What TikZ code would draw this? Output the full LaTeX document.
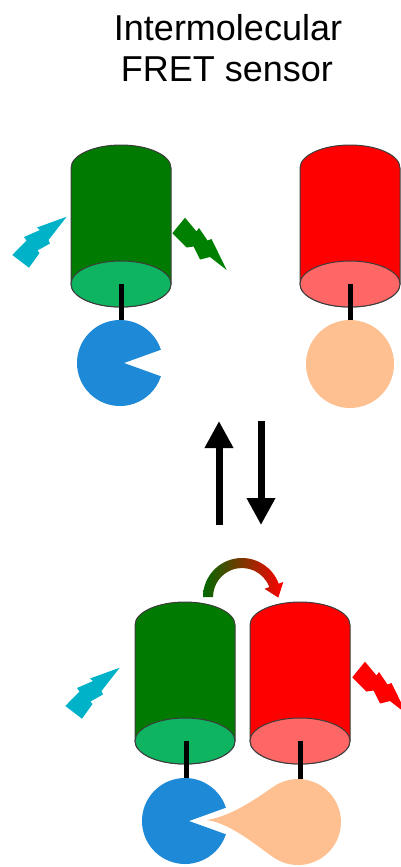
\documentclass[tikz,border=0pt]{standalone}
\usepackage{fontspec}
\setmainfont{Liberation Sans}
\usetikzlibrary{arrows.meta}

\definecolor{cylgreen}{RGB}{0,122,0}
\definecolor{facegreen}{RGB}{14,180,96}
\definecolor{cylred}{RGB}{255,0,0}
\definecolor{facered}{RGB}{255,102,102}
\definecolor{edge}{RGB}{60,60,60}
\definecolor{pacblue}{RGB}{30,137,214}
\definecolor{peach}{RGB}{255,192,145}
\definecolor{boltcyan}{RGB}{0,178,200}
\definecolor{boltgreen}{RGB}{0,128,0}
\definecolor{arcgreen}{RGB}{0,105,0}

\tikzset{
  title/.style={font=\fontsize{36}{41}\selectfont, inner sep=0pt, anchor=base},
  stem/.style={line width=5pt, black},
  equil/.style={line width=7pt, -{Triangle[length=27pt,width=27pt]}},
  % fluorescent protein barrel: body colour, face colour, length
  pics/barrel/.style n args={3}{code={
    \filldraw[fill=#1, draw=edge, line width=1pt]
      (-50,0) -- (-50,#3) arc[start angle=180, end angle=0, x radius=50, y radius=23]
      -- (50,0) arc[start angle=0, end angle=-180, x radius=50, y radius=23] -- cycle;
    \filldraw[fill=#2, draw=edge, line width=1pt] (0,#3) ellipse[x radius=50, y radius=23];
  }},
  % sensing domain with a binding pocket
  pics/pacman/.style={code={
    \fill[pacblue] (4,0) -- (-18:43) arc[start angle=-18, end angle=-342, radius=43] -- cycle;
  }},
  % excitation light
  pics/excite/.style={code={
    \fill[boltcyan] (66.7,216.7) -- (37,227.5) -- (40,230) -- (24,237) -- (26.5,240.5)
      -- (12.3,255) -- (29,267.7) -- (39.5,253) -- (37.5,250.5) -- (50,243.5)
      -- (48.5,240) -- cycle;
  }},
  % emitted light
  pics/emit/.style={code={
    \fill[#1] (185,217.7) -- (196.5,231.5) -- (199,228) -- (207.5,240.5) -- (211.5,239)
      -- (226.7,270) -- (210,257) -- (200,259.5) -- (193.5,246.5) -- (186.5,247.5)
      -- (172.3,233.3) -- cycle;
  }},
}

\begin{document}
\begin{tikzpicture}[x=1pt, y=-1pt]
\useasboundingbox (0,0) rectangle (401,867);
\clip (0,0) rectangle (401,867);

% title
\node[title] (t1) at (228,40.7) {Intermolecular};
\node[title] (t2) at (227,81.7) {FRET sensor};

% ---- separated state ----
\pic at (121,168) {barrel={cylgreen}{facegreen}{116}};
\pic at (350,168) {barrel={cylred}{facered}{116}};
\coordinate (ga) at (121,284);
\coordinate (gb) at (121,320);
\coordinate (ra) at (350,284);
\coordinate (rb) at (350,320);
\draw[stem] (ga) -- (gb);
\draw[stem] (ra) -- (rb);
\pic at (120,363) {pacman};
\fill[peach] (350,364) circle[radius=44];
\pic at (0,0) {excite};
\pic at (0,0) {emit=boltgreen};

% ---- equilibrium arrows ----
\coordinate (ua) at (219,525);
\coordinate (ub) at (219,421);
\coordinate (da) at (261,421);
\coordinate (db) at (261,525);
\draw[equil] (ua) -- (ub);
\draw[equil] (da) -- (db);

% ---- bound state ----
\pic at (185,625) {barrel={cylgreen}{facegreen}{116}};
\pic at (300,625) {barrel={cylred}{facered}{116}};
\coordinate (gc) at (186,741);
\coordinate (gd) at (186,778);
\coordinate (rc) at (300,741);
\coordinate (rd) at (300,779);
\draw[stem] (gc) -- (gd);
\draw[stem] (rc) -- (rd);
\pic at (185,821) {pacman};
\fill[peach] (207,820) .. controls (232,816) and (257,798) .. (273.3,786.8)
  arc[start angle=235, end angle=485, radius=43]
  .. controls (257,846) and (232,824) .. cycle;
\pic at (53,451) {excite};
\pic at (180,444) {emit=cylred};

% energy transfer arrow
\shade[left color=arcgreen, right color=red]
  (203,597) arc[start angle=180, end angle=340, radius=39]
  -- (283.3,582) -- (278.3,597.6) -- (264.5,588.8) -- (269.3,587.1)
  arc[start angle=340, end angle=180, radius=29] -- cycle;
\end{tikzpicture}
\end{document}
